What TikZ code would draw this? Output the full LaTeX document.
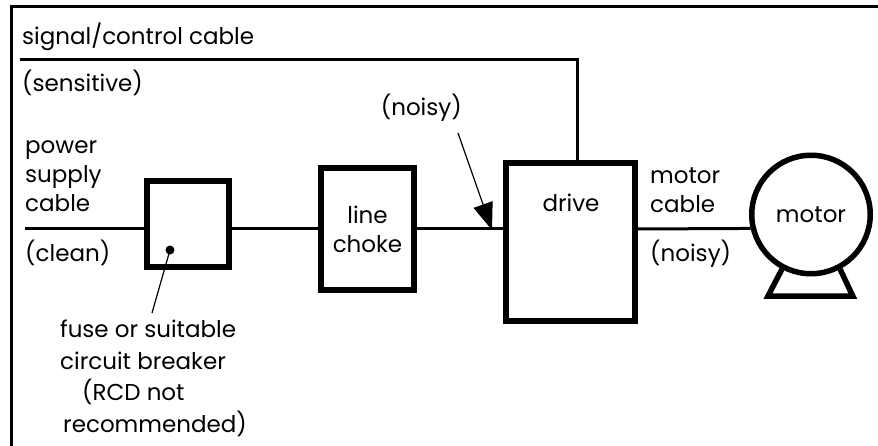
\documentclass[tikz,border=0pt]{standalone}
\usepackage{fontspec}
\setmainfont{Poppins}
\usetikzlibrary{arrows.meta}
\begin{document}
\begin{tikzpicture}[x=1pt, y=-1pt, font=\fontsize{23}{29}\selectfont, line join=miter, >={Triangle[length=27pt,width=20pt]},
	box/.style={draw, line width=6pt, inner sep=0pt, align=center},
	cable/.style={line width=3pt},
	lead/.style={line width=1.2pt},
	txt/.style={anchor=base west, inner sep=0pt, align=left}]
	\useasboundingbox (0,0) rectangle (878,446);
	\draw[line width=3pt] (11,446) -- (11,6.5) -- (878,6.5);
	% blocks
	\node[box, minimum width=82pt, minimum height=86pt] (fuse) at (188,224) {};
	\node[box, minimum width=93pt, minimum height=122pt] (choke) at (367.5,229) {line\\choke};
	\node[box, minimum width=129pt, minimum height=158pt] (drive) at (570.5,242) {};
	\node[anchor=base, inner sep=0pt] (drivel) at (571,212) {drive};
	\node[draw, circle, line width=5.5pt, minimum size=118.5pt, inner sep=0pt] (motor) at (811,214.5) {motor};
	\draw[line width=5.5pt] (motor.-118) -- ++(-14,27) -- ++(85,0) -- (motor.-62);
	% cables
	\coordinate (mains) at (25,229);
	\coordinate (sigstart) at (20,60);
	\coordinate (sigturn) at (577,60);
	\draw[cable] (sigstart) -- (sigturn) -- (sigturn |- drive.north);
	\draw[cable] (mains) -- (mains -| fuse.west);
	\draw[cable] (mains -| fuse.east) -- (choke.west);
	\draw[cable] (choke.east) -- (choke.east -| drive.west);
	\draw[cable] (choke.east -| drive.east) -- (motor.193);
	% pointers
	\coordinate (fusedot) at (170,250);
	\coordinate (fuseend) at (152,313);
	\fill (fusedot) circle (4.5);
	\draw[lead] (fusedot) -- (fuseend);
	\coordinate (noisystart) at (458,133);
	\coordinate (noisytip) at (492,230);
	\draw[lead,->] (noisystart) -- (noisytip);
	% labels (base = last line)
	\node[txt] (sigl) at (22,45) {signal/control cable};
	\node[txt] (sensl) at (22,92) {(sensitive)};
	\node[txt] (powerl) at (25,212) {power\\supply\\cable};
	\node[txt] (cleanl) at (25,262) {(clean)};
	\node[txt, anchor=base east] (noisyl) at (462,116) {(noisy)};
	\node[txt] (motorl) at (650,213) {motor\\cable};
	\node[txt] (noisyml) at (650,262) {(noisy)};
	\node[txt, font=\fontsize{23}{31.5}\selectfont] (fusel) at (60,432) {fuse or suitable\\circuit breaker\\\hspace*{22pt}(RCD not\\\hspace*{3pt}recommended)};
\end{tikzpicture}
\end{document}
